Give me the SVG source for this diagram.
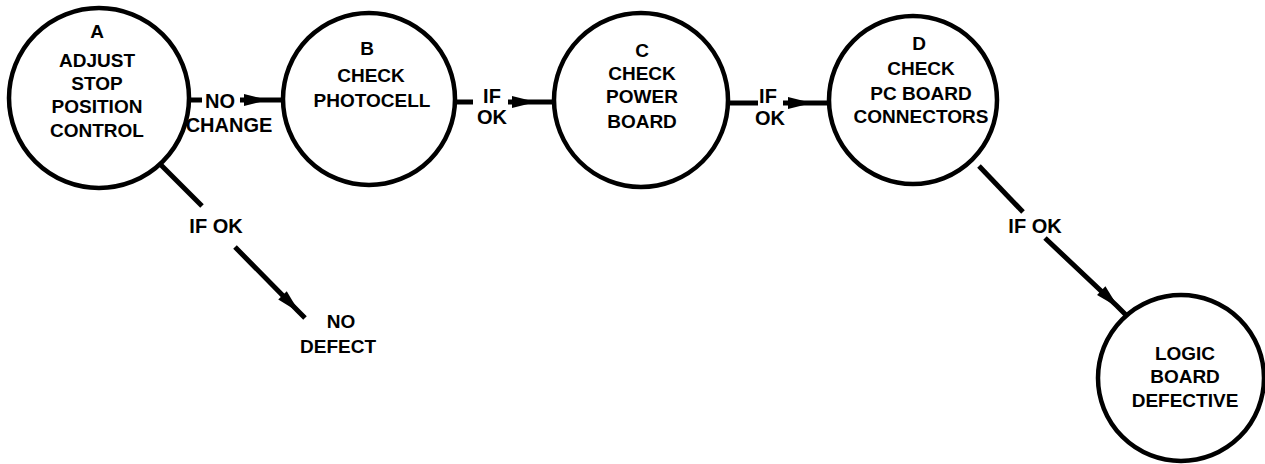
<svg xmlns="http://www.w3.org/2000/svg" width="1265" height="464" viewBox="0 0 1265 464">
<style>
.node{fill:#fff;stroke:#000;stroke-width:4.5}
.t{font-family:"Liberation Sans",Arial,sans-serif;font-weight:bold;font-size:19px;fill:#000;text-anchor:middle}
.l{font-family:"Liberation Sans",Arial,sans-serif;font-weight:bold;font-size:20px;fill:#000;text-anchor:middle}
.c{fill:none;stroke:#000;stroke-width:5;stroke-linecap:butt}
</style>
<defs>
<marker id="ah" markerUnits="userSpaceOnUse" markerWidth="30" markerHeight="18" viewBox="-24 -9 28 18" refX="0" refY="0" orient="auto">
<path d="M-22,-6 L2,0 L-22,6 Z" fill="#000"/>
</marker>
</defs>
<g id="connectors">
<path class="c" d="M190,100 L202,100"/>
<path class="c" d="M240,100 L266,100 L284,100" marker-mid="url(#ah)"/>
<path class="c" d="M455,102 L473,102"/>
<path class="c" d="M508,102 L534,102 L555,102" marker-mid="url(#ah)"/>
<path class="c" d="M727,103 L758,103"/>
<path class="c" d="M783,103 L810,103 L830,103" marker-mid="url(#ah)"/>
<path class="c" d="M159,163 L202,206"/>
<path class="c" d="M235,247 L298,311 L305,318" marker-mid="url(#ah)"/>
<path class="c" d="M979,166 L1023,212"/>
<path class="c" d="M1045,238 L1117,306 L1128,317" marker-mid="url(#ah)"/>
<text class="l" x="220" y="108">NO</text>
<text class="l" x="229" y="132">CHANGE</text>
<text class="l" x="492" y="103">IF</text>
<text class="l" x="492" y="124">OK</text>
<text class="l" x="768" y="103">IF</text>
<text class="l" x="770" y="125">OK</text>
<text class="l" x="216" y="233">IF OK</text>
<text class="l" x="1035" y="233">IF OK</text>
</g>
<g id="nodeA">
<circle class="node" cx="99" cy="98" r="90"/>
<text class="t" x="97" y="38">A</text>
<text class="t" x="97" y="67">ADJUST</text>
<text class="t" x="97" y="90">STOP</text>
<text class="t" x="97" y="113">POSITION</text>
<text class="t" x="97" y="137">CONTROL</text>
</g>
<g id="nodeB">
<circle class="node" cx="369" cy="99" r="86"/>
<text class="t" x="367" y="55">B</text>
<text class="t" x="371" y="82">CHECK</text>
<text class="t" x="372" y="107">PHOTOCELL</text>
</g>
<g id="nodeC">
<circle class="node" cx="641" cy="100" r="87"/>
<text class="t" x="642" y="57">C</text>
<text class="t" x="642" y="80">CHECK</text>
<text class="t" x="642" y="103">POWER</text>
<text class="t" x="642" y="128">BOARD</text>
</g>
<g id="nodeD">
<circle class="node" cx="913" cy="100" r="84"/>
<text class="t" x="919" y="50">D</text>
<text class="t" x="921" y="75">CHECK</text>
<text class="t" x="921" y="100">PC BOARD</text>
<text class="t" x="921" y="123">CONNECTORS</text>
</g>
<g id="nodeNoDefect">
<text class="t" x="341" y="328">NO</text>
<text class="t" x="338" y="353">DEFECT</text>
</g>
<g id="nodeLogic">
<circle class="node" cx="1181" cy="378" r="83"/>
<text class="t" x="1185" y="360">LOGIC</text>
<text class="t" x="1185" y="383">BOARD</text>
<text class="t" x="1185" y="407">DEFECTIVE</text>
</g>
</svg>
